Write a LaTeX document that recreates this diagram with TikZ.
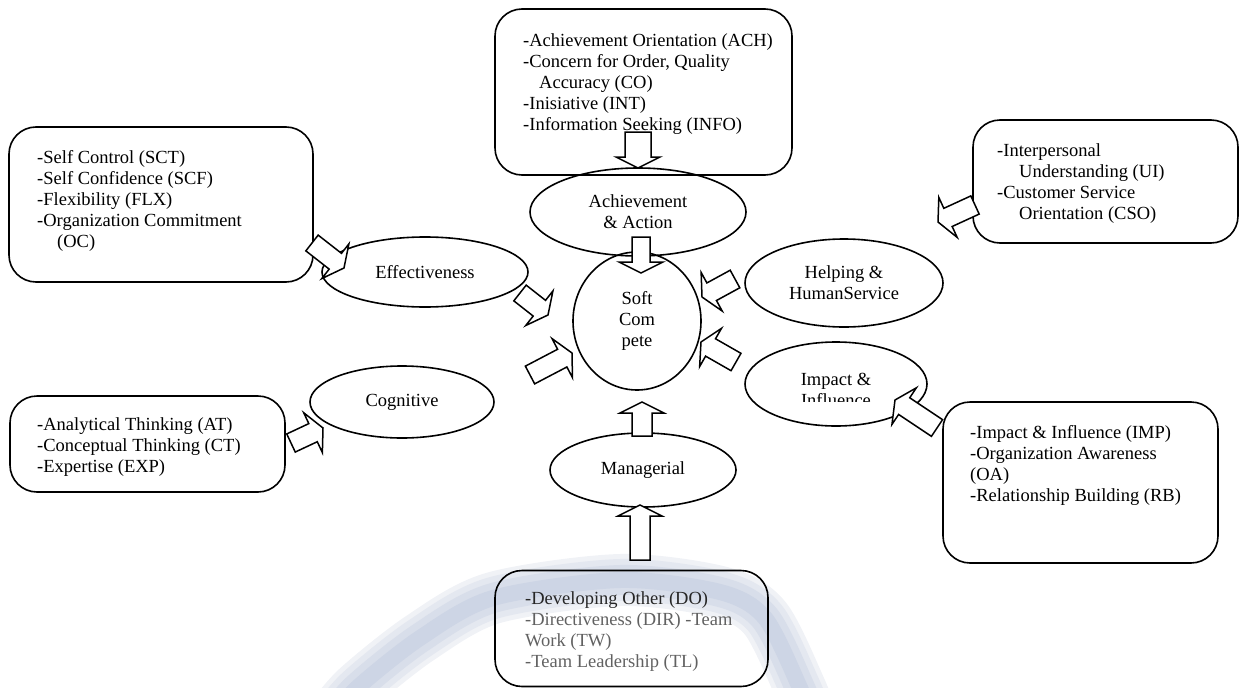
\documentclass[tikz,border=0pt]{standalone}
\usepackage{fontspec}
\setmainfont{Liberation Serif}
\usetikzlibrary{shapes.geometric}
\usetikzlibrary{calc}
\definecolor{wmA}{RGB}{240,242,246}
\definecolor{wmB}{RGB}{228,232,240}
\definecolor{wmC}{RGB}{216,222,234}
\definecolor{wmD}{RGB}{205,213,229}

\tikzset{
  pbox/.style={draw, line width=1.6pt, rounded corners=27pt, inner sep=0pt},
  ptext/.style={align=left, anchor=north west, inner sep=0pt, font=\fontsize{18.5}{21}\selectfont},
  oval/.style={draw, ellipse, line width=1.6pt, inner sep=0pt, align=center, font=\fontsize{18.5}{21}\selectfont},
  hollow/.style={draw, fill=white, line width=1.5pt, line join=miter},
}

% hollow block arrow: [shaft width]{tail}{tip}
\newcommand{\blockarr}[3][20]{%
  \path let \p1=($(#3)-(#2)$) in \pgfextra{%
    \pgfmathsetmacro\arrang{atan2(\y1,\x1)}%
    \pgfmathsetmacro\arrlen{veclen(\x1,\y1)}%
    \pgfmathsetmacro\arrbase{\arrlen-11}%
    \xdef\arrang{\arrang}\xdef\arrlen{\arrlen}\xdef\arrbase{\arrbase}};
  \draw[hollow, shift={(#2)}, rotate=\arrang]
    ({0pt},{-#1pt/2}) -- ({\arrbase pt},{-#1pt/2}) -- ({\arrbase pt},{-22pt}) -- ({\arrlen pt},{0pt})
    -- ({\arrbase pt},{22pt}) -- ({\arrbase pt},{#1pt/2}) -- ({0pt},{#1pt/2}) -- cycle;
}

\begin{document}
\begin{tikzpicture}[x=1pt,y=-1pt]
\useasboundingbox (0,0) rectangle (1248,688);

% watermark ring
\begin{scope}
\clip (0,0) rectangle (1248,688);
\foreach \w/\c in {52/wmA, 42/wmB, 30/wmC, 16/wmD}
  \draw[line width=\w pt, \c] plot[smooth] coordinates {(330,720) (357,688) (420,638) (493,598) (620,580) (720,592) (765,618) (800,688) (812,720)};
\end{scope}

% boxes
\node[pbox, minimum width=297pt, minimum height=166pt] (ach) at (643.5,92) {};
\node[ptext] (achtext) at (523,33) {-Achievement Orientation (ACH)\\-Concern for Order, Quality\\\hspace*{16pt}Accuracy (CO)\\-Inisiative (INT)\\-Information Seeking (INFO)};

\node[pbox, minimum width=304pt, minimum height=155pt] (sct) at (161,204.5) {};
\node[ptext] (scttext) at (37,150) {-Self Control (SCT)\\-Self Confidence (SCF)\\-Flexibility (FLX)\\-Organization Commitment\\\hspace*{20pt}(OC)};

\node[pbox, minimum width=265pt, minimum height=123pt] (ui) at (1105.5,181.5) {};
\node[ptext] (uitext) at (997,143) {-Interpersonal\\\hspace*{22pt}Understanding (UI)\\-Customer Service\\\hspace*{22pt}Orientation (CSO)};

\node[pbox, minimum width=275pt, minimum height=161pt] (imp) at (1080.5,482.5) {};
\node[ptext] (imptext) at (970,425) {-Impact \& Influence (IMP)\\-Organization Awareness\\(OA)\\-Relationship Building (RB)};

\node[pbox, minimum width=275pt, minimum height=96pt] (at) at (147.5,444) {};
\node[ptext] (attext) at (37,417) {-Analytical Thinking (AT)\\-Conceptual Thinking (CT)\\-Expertise (EXP)};

\node[pbox, minimum width=273pt, minimum height=116pt] (do) at (631.5,628.5) {};
\node[ptext] (dotext) at (525,591) {\textcolor{black!85}{-Developing Other (DO)}\\\textcolor{black!62}{-Directiveness (DIR) -Team}\\\textcolor{black!62}{Work (TW)}\\\textcolor{black!62}{-Team Leadership (TL)}};

% ellipses
\node[oval, minimum width=216pt, minimum height=88pt] (achv) at (638,212) {Achievement\\\& Action};
\node[oval, minimum width=128pt, minimum height=138pt] (soft) at (637,321) {Soft\\Com\\pete};
\node[oval, minimum width=206pt, minimum height=70pt] (effe) at (425,272) {Effectiveness};
\node[oval, minimum width=184pt, minimum height=72pt] (cogn) at (402,402) {Cognitive};
\node[oval, minimum width=186pt, minimum height=74pt] (mana) at (643,470) {Managerial};
\node[oval, minimum width=198pt, minimum height=88pt] (help) at (844,283) {Helping \&\\HumanService};
\node[oval, minimum width=182pt, minimum height=84pt] (impa) at (836,384) {};
\begin{scope}
\clip (745,340) rectangle (930,401);
\node[oval, draw=none] (impatext) at (836,390) {Impact \&\\Influence};
\end{scope}

% arrow ends
\coordinate (achA) at (638,132); \coordinate (achB) at (638,168);
\coordinate (actA) at (641,237); \coordinate (actB) at (641,273);
\coordinate (manA) at (642,436); \coordinate (manB) at (642,402);
\coordinate (devA) at (640,560); \coordinate (devB) at (640,505);
\coordinate (effA) at (520,293); \coordinate (effB) at (548,315);
\coordinate (cogA) at (530,375); \coordinate (cogB) at (572,353);
\coordinate (helA) at (735,279); \coordinate (helB) at (702,297);
\coordinate (impA) at (736,362); \coordinate (impB) at (701,342);
\coordinate (sctA) at (312,243); \coordinate (sctB) at (344,268);
\coordinate (atA) at (291,443); \coordinate (atB) at (323,428);
\coordinate (uiA) at (975,205); \coordinate (uiB) at (938,222);
\coordinate (ipA) at (937,428); \coordinate (ipB) at (895,400);

\blockarr[26]{achA}{achB}
\blockarr[18]{actA}{actB}
\blockarr{manA}{manB}
\blockarr{devA}{devB}
\blockarr{effA}{effB}
\blockarr{cogA}{cogB}
\blockarr{helA}{helB}
\blockarr{impA}{impB}
\blockarr{sctA}{sctB}
\blockarr{atA}{atB}
\blockarr{uiA}{uiB}
\blockarr{ipA}{ipB}

\end{tikzpicture}
\end{document}
